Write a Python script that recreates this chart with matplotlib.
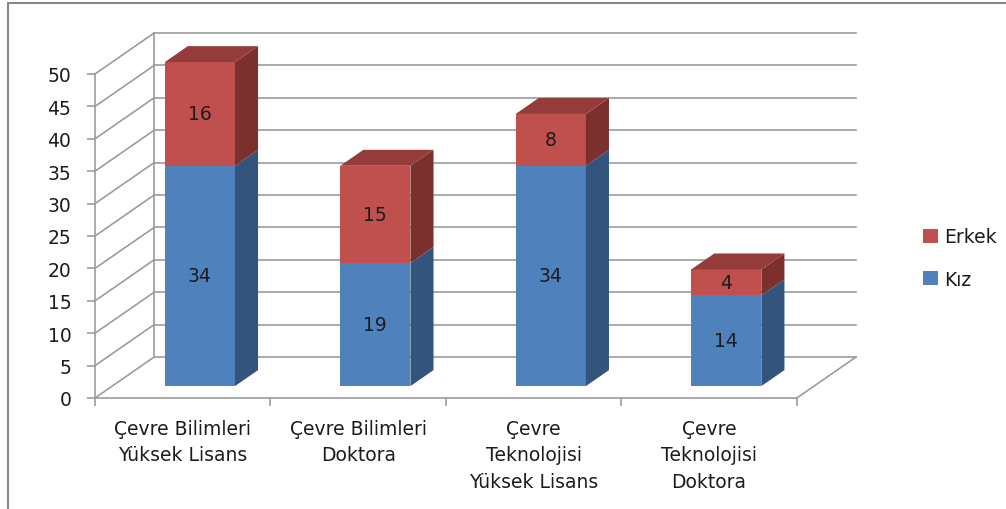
import matplotlib
matplotlib.use('Agg')
import matplotlib.pyplot as plt
from matplotlib.patches import Polygon, Rectangle, Patch

categories = ['Çevre Bilimleri\nYüksek Lisans', 'Çevre Bilimleri\nDoktora',
              'Çevre\nTeknolojisi\nYüksek Lisans', 'Çevre\nTeknolojisi\nDoktora']
kiz = [34, 19, 34, 14]
erkek = [16, 15, 8, 4]
yticks = list(range(0, 55, 5))

# colours: front, side, top
blue = ('#4f81bd', '#33557d', '#41699a')
red = ('#c0504d', '#7b302e', '#933c3a')
grid_c = '#9c9c9c'
text_c = '#1c1c1c'

plt.rcParams['font.family'] = ['DejaVu Sans']

W, H = 1006, 510
fig = plt.figure(figsize=(W / 100, H / 100), dpi=100)

# pseudo 3d depth offset (category units, value units)
DX = 59 / 175
DY = 41 / 6.48
f0, f1 = 0.29, 0.68   # bar front/back depth fraction
bw = 0.4

ax = fig.add_axes([95 / W, (H - 399) / H, 761 / W, 365 / H])
ax.set_xlim(-0.5, 3.5 + DX)
ax.set_ylim(0, 50 + DY)
ax.patch.set_visible(False)

# walls
for v in yticks:
    ax.plot([-0.5 + DX, 3.5 + DX], [v + DY, v + DY], color=grid_c, lw=1.2, zorder=1, clip_on=False)
    ax.plot([-0.5, -0.5 + DX], [v, v + DY], color=grid_c, lw=1.2, zorder=1, clip_on=False)
ax.plot([-0.5 + DX, -0.5 + DX], [DY, 50 + DY], color=grid_c, lw=1.2, zorder=1, clip_on=False)
ax.plot([3.5, 3.5 + DX], [0, DY], color=grid_c, lw=1.2, zorder=1, clip_on=False)


def box(x0, y0, y1, cols, top):
    x1 = x0 + bw
    dx, dy = (f1 - f0) * DX, (f1 - f0) * DY
    ax.add_patch(Rectangle((x0, y0), bw, y1 - y0, facecolor=cols[0], edgecolor='none', zorder=3))
    ax.add_patch(Polygon([(x1, y0), (x1 + dx, y0 + dy), (x1 + dx, y1 + dy), (x1, y1)],
                         closed=True, facecolor=cols[1], edgecolor='none', zorder=3))
    if top:
        ax.add_patch(Polygon([(x0, y1), (x1, y1), (x1 + dx, y1 + dy), (x0 + dx, y1 + dy)],
                             closed=True, facecolor=cols[2], edgecolor='none', zorder=3))


for i in range(len(categories)):
    x0 = i - bw / 2 + f0 * DX
    y0 = f0 * DY
    box(x0, y0, y0 + kiz[i], blue, False)
    box(x0, y0 + kiz[i], y0 + kiz[i] + erkek[i], red, True)
    ax.text(x0 + bw / 2, y0 + kiz[i] / 2, str(kiz[i]), ha='center', va='center',
            fontsize=13.5, color=text_c, zorder=4)
    ax.text(x0 + bw / 2, y0 + kiz[i] + erkek[i] / 2, str(erkek[i]), ha='center', va='center',
            fontsize=13.5, color=text_c, zorder=4)

# axes
for s in ['top', 'right']:
    ax.spines[s].set_visible(False)
for s in ['left', 'bottom']:
    ax.spines[s].set_color(grid_c)
    ax.spines[s].set_linewidth(1.2)
ax.spines['left'].set_bounds(0, 50)
ax.spines['bottom'].set_bounds(-0.5, 3.5)
ax.set_yticks(yticks)
ax.set_xticks([-0.5, 0.5, 1.5, 2.5, 3.5])
ax.set_xticklabels([])
ax.set_xticks(range(len(categories)), minor=True)
ax.set_xticklabels(categories, minor=True)
ax.tick_params(axis='y', length=6, width=1.2, color=grid_c, pad=11, labelsize=13.5, labelcolor=text_c)
ax.tick_params(axis='x', which='major', length=6, width=1.2, color=grid_c)
ax.tick_params(axis='x', which='minor', length=0, pad=15, labelsize=13.5, labelcolor=text_c)
for t in ax.get_xticklabels(minor=True):
    t.set_linespacing(1.5)

handles = [Patch(facecolor=red[0], label='Erkek'), Patch(facecolor=blue[0], label='Kız')]
fig.legend(handles=handles, loc='center left', bbox_to_anchor=(906 / W, 1 - 259 / H),
           frameon=False, fontsize=13.5, handlelength=0.8, handleheight=0.8,
           handletextpad=0.35, labelspacing=1.25, labelcolor=text_c)

# outer chart border
fig.add_artist(Rectangle((8 / W, -0.05), 1.1, (H - 4) / H + 0.05, transform=fig.transFigure,
                         fill=False, edgecolor='#878787', lw=1.5))

fig.savefig('out.png', dpi=100)
